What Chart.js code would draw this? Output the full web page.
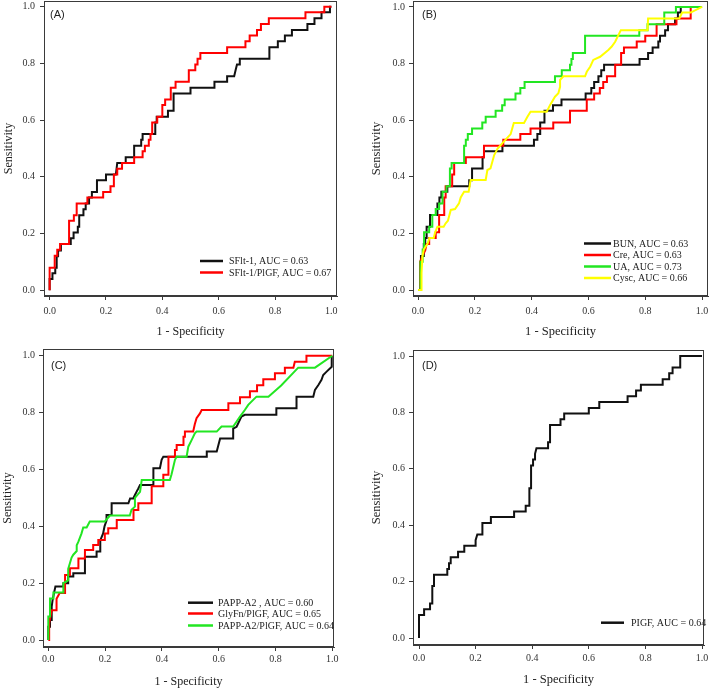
<!DOCTYPE html>
<html><head><meta charset="utf-8">
<script src="https://cdn.jsdelivr.net/npm/chart.js@4.4.1/dist/chart.umd.min.js"></script>
<style>
html,body{margin:0;padding:0;background:#fff;overflow:hidden;width:709px;height:690px;position:relative;}
canvas{position:absolute;}
</style></head><body>
<canvas id="cA" width="354" height="355" style="left:0px;top:-10px;width:354px;height:355px"></canvas>
<canvas id="cB" width="365" height="355" style="left:354px;top:-10px;width:365px;height:355px"></canvas>
<canvas id="cC" width="354" height="355" style="left:0px;top:335px;width:354px;height:355px"></canvas>
<canvas id="cD" width="365" height="355" style="left:354px;top:335px;width:365px;height:355px"></canvas>
<script>
// ---- DATA: ROC vertices [1 - specificity, sensitivity] ----
const tickValues = [0, 0.2, 0.4, 0.6, 0.8, 1.0];
const xAxisTitle = '1 - Specificity';
const yAxisTitle = 'Sensitivity';

// Panel A
const rocSFlt1 = [[0,0],[0,0.04],[0.01,0.04],[0.01,0.06],[0.02,0.06],[0.02,0.08],[0.025,0.08],[0.025,0.12],[0.03,0.12],[0.03,0.14],[0.04,0.14],[0.04,0.163],[0.075,0.163],[0.075,0.184],[0.085,0.184],[0.085,0.204],[0.1,0.204],[0.1,0.224],[0.105,0.224],[0.105,0.265],[0.12,0.265],[0.12,0.286],[0.128,0.286],[0.128,0.306],[0.14,0.306],[0.14,0.327],[0.15,0.327],[0.15,0.347],[0.168,0.347],[0.168,0.388],[0.2,0.388],[0.2,0.408],[0.235,0.408],[0.24,0.449],[0.27,0.449],[0.27,0.469],[0.3,0.469],[0.3,0.51],[0.325,0.51],[0.325,0.531],[0.33,0.531],[0.33,0.551],[0.375,0.551],[0.375,0.592],[0.38,0.592],[0.38,0.612],[0.42,0.612],[0.42,0.633],[0.44,0.633],[0.44,0.694],[0.5,0.694],[0.5,0.714],[0.585,0.714],[0.585,0.735],[0.63,0.735],[0.63,0.755],[0.655,0.755],[0.66,0.776],[0.665,0.796],[0.675,0.796],[0.675,0.816],[0.78,0.816],[0.78,0.857],[0.81,0.857],[0.81,0.878],[0.835,0.878],[0.835,0.898],[0.86,0.898],[0.86,0.918],[0.915,0.918],[0.915,0.939],[0.94,0.939],[0.94,0.959],[0.965,0.959],[0.965,0.98],[0.995,0.98],[0.995,1],[1,1]];
const rocSFlt1PlGF = [[0,0],[0,0.08],[0.018,0.08],[0.018,0.122],[0.027,0.122],[0.027,0.143],[0.037,0.143],[0.037,0.163],[0.069,0.163],[0.069,0.245],[0.086,0.245],[0.086,0.265],[0.096,0.265],[0.096,0.306],[0.134,0.306],[0.134,0.327],[0.19,0.327],[0.19,0.347],[0.216,0.347],[0.216,0.367],[0.228,0.367],[0.228,0.408],[0.24,0.408],[0.24,0.429],[0.257,0.429],[0.257,0.449],[0.3,0.449],[0.3,0.469],[0.33,0.469],[0.33,0.49],[0.338,0.49],[0.338,0.51],[0.352,0.51],[0.352,0.531],[0.358,0.531],[0.358,0.551],[0.364,0.551],[0.364,0.592],[0.382,0.592],[0.382,0.612],[0.4,0.612],[0.4,0.653],[0.41,0.653],[0.41,0.673],[0.43,0.673],[0.43,0.714],[0.447,0.714],[0.447,0.735],[0.494,0.735],[0.494,0.776],[0.517,0.776],[0.517,0.796],[0.525,0.796],[0.525,0.816],[0.535,0.816],[0.535,0.837],[0.63,0.837],[0.63,0.857],[0.695,0.857],[0.695,0.878],[0.71,0.878],[0.71,0.898],[0.736,0.898],[0.736,0.918],[0.75,0.918],[0.75,0.939],[0.778,0.939],[0.778,0.959],[0.908,0.959],[0.908,0.98],[0.975,0.98],[0.975,1],[1,1]];

// Panel B
const rocBUN = [[0,0],[0.01,0],[0.01,0.12],[0.02,0.12],[0.02,0.163],[0.025,0.163],[0.025,0.184],[0.03,0.184],[0.03,0.224],[0.042,0.224],[0.042,0.265],[0.068,0.265],[0.068,0.306],[0.075,0.306],[0.075,0.327],[0.082,0.327],[0.082,0.347],[0.103,0.347],[0.103,0.367],[0.18,0.367],[0.18,0.388],[0.19,0.388],[0.19,0.429],[0.227,0.429],[0.227,0.469],[0.232,0.469],[0.232,0.49],[0.297,0.49],[0.297,0.51],[0.408,0.51],[0.408,0.531],[0.42,0.531],[0.42,0.551],[0.43,0.551],[0.43,0.592],[0.445,0.592],[0.445,0.633],[0.475,0.633],[0.475,0.653],[0.505,0.653],[0.505,0.673],[0.59,0.673],[0.59,0.694],[0.61,0.694],[0.61,0.714],[0.62,0.714],[0.62,0.735],[0.635,0.735],[0.635,0.755],[0.645,0.755],[0.645,0.776],[0.655,0.776],[0.655,0.796],[0.78,0.796],[0.78,0.816],[0.81,0.816],[0.81,0.837],[0.826,0.837],[0.826,0.857],[0.846,0.857],[0.846,0.878],[0.852,0.878],[0.852,0.898],[0.87,0.898],[0.87,0.918],[0.88,0.918],[0.88,0.939],[0.905,0.939],[0.905,0.959],[0.915,0.959],[0.915,0.98],[0.925,0.98],[0.925,1],[1,1]];
const rocCre = [[0,0],[0.007,0],[0.007,0.1],[0.015,0.12],[0.025,0.14],[0.03,0.163],[0.039,0.163],[0.039,0.184],[0.062,0.184],[0.062,0.204],[0.074,0.204],[0.074,0.265],[0.092,0.265],[0.092,0.327],[0.097,0.327],[0.097,0.367],[0.12,0.367],[0.12,0.408],[0.127,0.408],[0.127,0.449],[0.168,0.449],[0.168,0.469],[0.232,0.469],[0.232,0.51],[0.3,0.51],[0.3,0.531],[0.36,0.531],[0.36,0.551],[0.396,0.551],[0.396,0.571],[0.476,0.571],[0.476,0.592],[0.535,0.592],[0.535,0.633],[0.594,0.633],[0.594,0.673],[0.62,0.673],[0.62,0.694],[0.64,0.694],[0.64,0.714],[0.652,0.714],[0.652,0.735],[0.665,0.735],[0.665,0.755],[0.694,0.755],[0.694,0.796],[0.715,0.796],[0.715,0.837],[0.725,0.837],[0.725,0.857],[0.77,0.857],[0.77,0.878],[0.8,0.878],[0.8,0.898],[0.84,0.898],[0.84,0.939],[0.91,0.939],[0.91,0.959],[0.96,0.959],[0.96,1],[1,1]];
const rocUA = [[0,0],[0.008,0],[0.008,0.1],[0.016,0.1],[0.016,0.143],[0.021,0.143],[0.021,0.204],[0.039,0.204],[0.039,0.224],[0.05,0.224],[0.05,0.265],[0.062,0.265],[0.062,0.286],[0.074,0.286],[0.074,0.306],[0.086,0.306],[0.086,0.347],[0.1,0.347],[0.1,0.367],[0.112,0.367],[0.112,0.429],[0.118,0.429],[0.118,0.449],[0.162,0.449],[0.162,0.51],[0.168,0.51],[0.168,0.531],[0.175,0.531],[0.175,0.551],[0.19,0.551],[0.19,0.571],[0.226,0.571],[0.226,0.592],[0.238,0.592],[0.238,0.612],[0.273,0.612],[0.273,0.633],[0.296,0.633],[0.296,0.653],[0.305,0.653],[0.305,0.673],[0.343,0.673],[0.343,0.694],[0.36,0.694],[0.36,0.714],[0.375,0.714],[0.375,0.735],[0.482,0.735],[0.482,0.755],[0.506,0.755],[0.506,0.776],[0.535,0.776],[0.535,0.796],[0.54,0.796],[0.54,0.816],[0.545,0.816],[0.545,0.837],[0.588,0.837],[0.588,0.898],[0.779,0.898],[0.779,0.918],[0.808,0.918],[0.808,0.939],[0.867,0.939],[0.867,0.98],[0.908,0.98],[0.908,1],[1,1]];
const rocCysc = [[0,0],[0.012,0],[0.012,0.06],[0.015,0.118],[0.02,0.143],[0.033,0.163],[0.04,0.184],[0.055,0.184],[0.06,0.204],[0.068,0.224],[0.09,0.224],[0.097,0.236],[0.105,0.245],[0.115,0.283],[0.13,0.286],[0.144,0.306],[0.15,0.327],[0.162,0.347],[0.178,0.347],[0.185,0.389],[0.238,0.389],[0.244,0.424],[0.255,0.43],[0.268,0.477],[0.28,0.5],[0.297,0.519],[0.326,0.551],[0.337,0.59],[0.373,0.59],[0.385,0.612],[0.396,0.63],[0.453,0.63],[0.465,0.654],[0.482,0.683],[0.494,0.695],[0.5,0.718],[0.5,0.742],[0.512,0.755],[0.588,0.755],[0.594,0.771],[0.606,0.789],[0.617,0.813],[0.641,0.824],[0.67,0.848],[0.682,0.86],[0.694,0.877],[0.714,0.918],[0.808,0.918],[0.81,0.959],[0.92,0.959],[0.93,0.98],[0.96,0.98],[1,1]];

// Panel C
const rocPAPPA2 = [[0,0],[0,0.047],[0.006,0.047],[0.006,0.07],[0.012,0.07],[0.012,0.117],[0.015,0.14],[0.02,0.165],[0.025,0.188],[0.053,0.188],[0.053,0.2],[0.07,0.2],[0.07,0.223],[0.088,0.223],[0.088,0.235],[0.129,0.235],[0.129,0.293],[0.17,0.293],[0.17,0.311],[0.183,0.311],[0.183,0.35],[0.193,0.375],[0.198,0.4],[0.205,0.42],[0.205,0.44],[0.223,0.44],[0.223,0.481],[0.282,0.481],[0.288,0.498],[0.299,0.498],[0.305,0.51],[0.311,0.522],[0.317,0.533],[0.323,0.545],[0.37,0.545],[0.37,0.604],[0.393,0.604],[0.399,0.634],[0.405,0.645],[0.558,0.645],[0.558,0.663],[0.593,0.663],[0.599,0.686],[0.605,0.709],[0.651,0.709],[0.651,0.744],[0.663,0.75],[0.68,0.786],[0.692,0.792],[0.803,0.792],[0.803,0.815],[0.874,0.815],[0.874,0.856],[0.933,0.856],[0.939,0.88],[0.951,0.897],[0.962,0.915],[0.968,0.932],[0.98,0.944],[0.998,0.961],[0.998,0.997],[1,1]];
const rocGlyFnPlGF = [[0,0],[0.003,0],[0.003,0.06],[0.012,0.105],[0.029,0.105],[0.029,0.145],[0.04,0.165],[0.059,0.165],[0.059,0.229],[0.076,0.229],[0.076,0.252],[0.106,0.252],[0.106,0.287],[0.129,0.287],[0.129,0.317],[0.158,0.317],[0.158,0.334],[0.176,0.334],[0.176,0.352],[0.199,0.352],[0.199,0.375],[0.211,0.375],[0.211,0.393],[0.241,0.393],[0.241,0.422],[0.3,0.422],[0.3,0.457],[0.317,0.457],[0.317,0.481],[0.364,0.481],[0.364,0.541],[0.405,0.541],[0.405,0.581],[0.423,0.581],[0.423,0.645],[0.446,0.645],[0.446,0.668],[0.452,0.668],[0.452,0.686],[0.476,0.686],[0.476,0.715],[0.481,0.715],[0.481,0.733],[0.51,0.733],[0.516,0.76],[0.522,0.78],[0.534,0.797],[0.54,0.809],[0.634,0.809],[0.634,0.833],[0.675,0.833],[0.675,0.854],[0.71,0.854],[0.71,0.875],[0.735,0.875],[0.735,0.896],[0.757,0.896],[0.757,0.917],[0.798,0.917],[0.798,0.938],[0.833,0.938],[0.833,0.958],[0.863,0.958],[0.868,0.979],[0.909,0.979],[0.909,1],[1,1]];
const rocPAPPA2PlGF = [[0,0],[0,0.083],[0.006,0.083],[0.006,0.146],[0.018,0.146],[0.018,0.167],[0.053,0.167],[0.053,0.2],[0.07,0.21],[0.07,0.25],[0.076,0.27],[0.082,0.29],[0.088,0.3],[0.1,0.313],[0.1,0.333],[0.106,0.346],[0.117,0.375],[0.123,0.396],[0.135,0.396],[0.146,0.417],[0.199,0.417],[0.217,0.438],[0.287,0.438],[0.293,0.458],[0.305,0.469],[0.305,0.5],[0.323,0.521],[0.329,0.563],[0.428,0.563],[0.434,0.583],[0.446,0.634],[0.452,0.645],[0.487,0.645],[0.493,0.68],[0.505,0.704],[0.516,0.727],[0.522,0.733],[0.593,0.733],[0.61,0.751],[0.651,0.751],[0.663,0.768],[0.675,0.786],[0.692,0.809],[0.704,0.827],[0.733,0.856],[0.775,0.856],[0.82,0.895],[0.88,0.958],[0.939,0.958],[1,1]];

// Panel D
const rocPlGF = [[0,0],[0,0.082],[0.018,0.082],[0.018,0.102],[0.039,0.102],[0.039,0.122],[0.047,0.122],[0.047,0.184],[0.053,0.184],[0.053,0.224],[0.1,0.224],[0.1,0.245],[0.106,0.245],[0.106,0.265],[0.112,0.265],[0.112,0.286],[0.138,0.286],[0.138,0.306],[0.16,0.306],[0.16,0.327],[0.2,0.327],[0.2,0.347],[0.206,0.367],[0.224,0.367],[0.224,0.408],[0.254,0.408],[0.254,0.429],[0.336,0.429],[0.336,0.449],[0.377,0.449],[0.377,0.469],[0.39,0.469],[0.39,0.531],[0.396,0.531],[0.396,0.612],[0.403,0.612],[0.403,0.633],[0.41,0.633],[0.41,0.653],[0.415,0.673],[0.456,0.673],[0.456,0.694],[0.463,0.694],[0.463,0.755],[0.5,0.755],[0.5,0.776],[0.513,0.776],[0.513,0.796],[0.6,0.796],[0.6,0.816],[0.637,0.816],[0.637,0.837],[0.737,0.837],[0.737,0.857],[0.767,0.857],[0.767,0.878],[0.784,0.878],[0.784,0.898],[0.861,0.898],[0.861,0.918],[0.884,0.918],[0.884,0.939],[0.896,0.939],[0.896,0.959],[0.923,0.959],[0.923,1],[1,1]];

// series labels
const labelsA = ['SFlt-1, AUC = 0.63', 'SFlt-1/PlGF, AUC = 0.67'];
const labelsB = ['BUN, AUC = 0.63', 'Cre, AUC = 0.63', 'UA, AUC = 0.73', 'Cysc, AUC = 0.66'];
const labelsC = ['PAPP-A2 , AUC = 0.60', 'GlyFn/PlGF, AUC = 0.65', 'PAPP-A2/PlGF, AUC = 0.64'];
const labelsD = ['PIGF, AUC = 0.64'];

// ---- STYLE ----
const BLACK = '#111111', RED = '#ff0000', GREEN = '#22e622', YELLOW = '#ffff00';
const SERIF = '"Liberation Serif", "Times New Roman", serif';
const SANS = '"Liberation Sans", Arial, sans-serif';
const FRAME = '#3a3a3a';

function framePlugin(p) {
  return {
    id: 'frame' + p.tag,
    afterDraw(chart) {
      const ctx = chart.ctx, a = chart.chartArea;
      ctx.save();
      ctx.strokeStyle = FRAME; ctx.lineWidth = 1;
      ctx.strokeRect(Math.round(a.left) + 0.5, Math.round(a.top) + 0.5,
                     Math.round(a.right - a.left) - 1, Math.round(a.bottom - a.top) - 1);
      ctx.fillStyle = '#222'; ctx.textBaseline = 'middle'; ctx.textAlign = 'left';
      ctx.font = '11px ' + SANS;
      ctx.fillText(p.tag, p.tagX, p.tagY);
      ctx.font = '10px ' + SERIF;
      chart.data.datasets.forEach((ds, i) => {
        const y = p.rows[i];
        ctx.strokeStyle = ds.borderColor; ctx.lineWidth = 2.5;
        ctx.beginPath(); ctx.moveTo(p.lx0, y); ctx.lineTo(p.lx1, y); ctx.stroke();
        ctx.fillStyle = '#222';
        ctx.fillText(ds.label, p.tx, y + 0.5);
      });
      ctx.restore();
    }
  };
}

function makePanel(p) {
  const datasets = p.series.map((s, i) => ({
    label: s.label,
    data: s.pts.map(v => ({x: v[0], y: v[1]})),
    showLine: true, fill: false, tension: 0,
    borderColor: s.color, backgroundColor: s.color,
    borderWidth: 2, pointRadius: 0, pointHoverRadius: 0,
    order: -i
  }));
  const tickFont = {family: SERIF, size: p.tickSize};
  const titleFont = {family: SERIF, size: p.titleSize};
  new Chart(document.getElementById(p.id), {
    type: 'scatter',
    data: {datasets},
    options: {
      responsive: false, animation: false, devicePixelRatio: 1,
      events: [],
      layout: {padding: {top: p.padTop, right: p.padRight, left: 0, bottom: 0}},
      plugins: {legend: {display: false}, tooltip: {enabled: false}},
      scales: {
        x: {
          type: 'linear', min: p.xMin, max: p.xMax,
          afterBuildTicks: s => { s.ticks = tickValues.map(v => ({value: v})); },
          afterFit: s => { s.height = p.xH; },
          ticks: {callback: v => Number(v).toFixed(1), font: tickFont, color: '#333',
                  padding: p.xTickPad, maxRotation: 0, autoSkip: false},
          grid: {display: true, drawOnChartArea: false, drawTicks: true, tickLength: 4,
                 color: FRAME, tickColor: FRAME, tickWidth: 1},
          border: {display: true, color: FRAME, width: 1},
          title: {display: true, text: xAxisTitle, font: titleFont, color: '#222',
                  padding: {top: 0, bottom: p.xTitlePad}}
        },
        y: {
          type: 'linear', min: p.yMin, max: p.yMax,
          afterBuildTicks: s => { s.ticks = tickValues.map(v => ({value: v})); },
          afterFit: s => { s.width = p.yW; },
          ticks: {callback: v => Number(v).toFixed(1), font: tickFont, color: '#333',
                  padding: p.yTickPad, autoSkip: false},
          grid: {display: true, drawOnChartArea: false, drawTicks: true, tickLength: 4,
                 color: FRAME, tickColor: FRAME, tickWidth: 1},
          border: {display: true, color: FRAME, width: 1},
          title: {display: true, text: yAxisTitle, font: titleFont, color: '#222',
                  padding: {top: p.yTitlePad, bottom: 0}}
        }
      }
    },
    plugins: [framePlugin(p)]
  });
}

makePanel({
  id: 'cA', tag: '(A)', tagX: 50, tagY: 25,
  padTop: 11, padRight: 17, yW: 44, xH: 49,
  xMin: -0.02, xMax: 1.02, yMin: -0.02, yMax: 1.02,
  tickSize: 10, titleSize: 12, xTickPad: 5.5, yTickPad: 5, xTitlePad: 5.8, yTitlePad: 1.8,
  lx0: 200, lx1: 223, tx: 229, rows: [271, 282.5],
  series: [
    {label: labelsA[0], pts: rocSFlt1, color: BLACK},
    {label: labelsA[1], pts: rocSFlt1PlGF, color: RED}
  ]
});
makePanel({
  id: 'cB', tag: '(B)', tagX: 68, tagY: 25,
  padTop: 11, padRight: 11, yW: 59, xH: 49,
  xMin: -0.018, xMax: 1.021, yMin: -0.021, yMax: 1.021,
  tickSize: 10, titleSize: 12.5, xTickPad: 5.5, yTickPad: 4, xTitlePad: 5.5, yTitlePad: 15.5,
  lx0: 230, lx1: 257, tx: 259, rows: [253.5, 265, 276.5, 288],
  series: [
    {label: labelsB[0], pts: rocBUN, color: BLACK},
    {label: labelsB[1], pts: rocCre, color: RED},
    {label: labelsB[2], pts: rocUA, color: GREEN},
    {label: labelsB[3], pts: rocCysc, color: YELLOW}
  ]
});
makePanel({
  id: 'cC', tag: '(C)', tagX: 51, tagY: 31,
  padTop: 14, padRight: 20, yW: 43, xH: 43,
  xMin: -0.0187, xMax: 1.006, yMin: -0.0246, yMax: 1.0236,
  tickSize: 10, titleSize: 12, xTickPad: 2, yTickPad: 4, xTitlePad: 0.8, yTitlePad: 0.8,
  lx0: 188, lx1: 213, tx: 218, rows: [267.7, 278.5, 290.5],
  series: [
    {label: labelsC[0], pts: rocPAPPA2, color: BLACK},
    {label: labelsC[1], pts: rocGlyFnPlGF, color: RED},
    {label: labelsC[2], pts: rocPAPPA2PlGF, color: GREEN}
  ]
});
makePanel({
  id: 'cD', tag: '(D)', tagX: 68, tagY: 31,
  padTop: 15, padRight: 15, yW: 59, xH: 45,
  xMin: -0.0212, xMax: 1.007, yMin: -0.0248, yMax: 1.0213,
  tickSize: 10, titleSize: 12.5, xTickPad: 3, yTickPad: 4, xTitlePad: 2.8, yTitlePad: 15.5,
  lx0: 247, lx1: 270, tx: 277, rows: [287.7],
  series: [
    {label: labelsD[0], pts: rocPlGF, color: BLACK}
  ]
});
</script>
</body></html>
